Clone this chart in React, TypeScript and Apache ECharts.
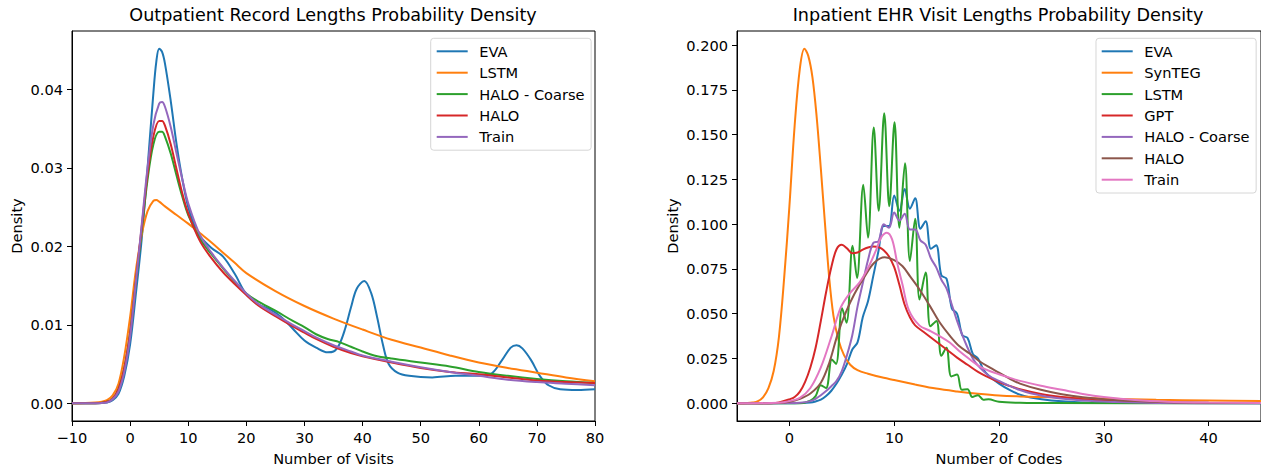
import React, { useEffect, useRef } from "react";
import * as echarts from "echarts";

// ---------- Left panel: Outpatient record lengths ----------
const outTitle = "Outpatient Record Lengths Probability Density";
const outXLabel = "Number of Visits";
const outNames = ["EVA", "LSTM", "HALO - Coarse", "HALO", "Train"];
const outXTicks = [-10, 0, 10, 20, 30, 40, 50, 60, 70, 80];
const outYTicks = [0, 0.01, 0.02, 0.03, 0.04];

const outEVA = [
  [-10, 0], [-6, 0], [-4, 0.0001], [-3, 0.0004], [-2, 0.0012], [-1, 0.0035], [0, 0.0075], [1, 0.014],
  [2, 0.021], [3, 0.030], [4, 0.0395], [4.5, 0.0435], [5, 0.0452], [5.5, 0.0448], [6, 0.0433], [7, 0.0385],
  [8, 0.033], [9, 0.0285], [10, 0.025], [11, 0.0228], [12, 0.0213], [14, 0.0198], [16, 0.0187], [18, 0.0165],
  [20, 0.0139], [22, 0.0126], [24, 0.012], [26, 0.011], [28, 0.0095], [30, 0.008], [32, 0.0071], [34, 0.0065],
  [35, 0.0066], [36, 0.0075], [37, 0.0095], [38, 0.0122], [39, 0.0146], [40.3, 0.0156], [41.5, 0.014],
  [42.5, 0.011], [43.5, 0.0075], [44.5, 0.005], [46, 0.0039], [48, 0.0035], [52, 0.0033], [56, 0.0035],
  [60, 0.0035], [62, 0.0037], [64, 0.0055], [65.5, 0.0071], [66.5, 0.0074], [67.5, 0.007], [69, 0.0055],
  [70.5, 0.0035], [72, 0.0023], [74, 0.0018], [77, 0.0017], [80, 0.0018],
];
const outLSTM = [
  [-10, 0], [-6, 0.0001], [-4, 0.0004], [-3, 0.001], [-2, 0.0025], [-1, 0.006], [0, 0.011], [1, 0.017],
  [2, 0.0215], [3, 0.0245], [4, 0.0258], [4.5, 0.0259], [5, 0.0257], [6, 0.0251], [8, 0.024], [10, 0.0229],
  [12, 0.0217], [14, 0.0205], [16, 0.0192], [18, 0.0179], [20, 0.0166], [25, 0.0143], [30, 0.0124],
  [35, 0.0108], [40, 0.0094], [45, 0.0081], [50, 0.0071], [55, 0.0061], [60, 0.0052], [65, 0.0045],
  [70, 0.0039], [75, 0.0033], [80, 0.0028],
];
const outHALOCoarse = [
  [-10, 0], [-6, 0], [-4, 0.0002], [-3, 0.0006], [-2, 0.0018], [-1, 0.0045], [0, 0.009], [1, 0.0155],
  [2, 0.022], [3, 0.0285], [4, 0.033], [5, 0.0346], [5.5, 0.0346], [6, 0.034], [7, 0.0318], [8, 0.029],
  [9, 0.0263], [10, 0.024], [12, 0.021], [14, 0.019], [16, 0.0172], [18, 0.0155], [20, 0.014], [22, 0.013],
  [25, 0.0118], [28, 0.0105], [30, 0.0097], [32, 0.0088], [34, 0.0082], [36, 0.0078], [38, 0.0072],
  [40, 0.0066], [42, 0.0061], [45, 0.0057], [50, 0.0052], [55, 0.0047], [60, 0.004], [65, 0.0035],
  [70, 0.0031], [75, 0.0028], [80, 0.0026],
];
const outHALO = [
  [-10, 0], [-6, 0], [-4, 0.0002], [-3, 0.0006], [-2, 0.0018], [-1, 0.0045], [0, 0.009], [1, 0.0157],
  [2, 0.0225], [3, 0.0292], [4, 0.034], [5, 0.036], [5.5, 0.036], [6, 0.0354], [7, 0.033], [8, 0.0298],
  [9, 0.0267], [10, 0.0242], [12, 0.0207], [14, 0.0185], [16, 0.0167], [18, 0.0152], [20, 0.0138],
  [22, 0.0125], [25, 0.0111], [28, 0.0098], [30, 0.009], [32, 0.0082], [35, 0.0072], [38, 0.0064],
  [40, 0.006], [45, 0.0052], [50, 0.0045], [55, 0.004], [60, 0.0037], [65, 0.0033], [70, 0.0029],
  [75, 0.0027], [80, 0.0026],
];
const outTrain = [
  [-10, 0], [-6, 0], [-4, 0.0001], [-3, 0.0005], [-2, 0.0015], [-1, 0.004], [0, 0.0085], [1, 0.0155],
  [2, 0.0228], [3, 0.03], [4, 0.0355], [5, 0.0382], [5.5, 0.0384], [6, 0.0378], [7, 0.0352], [8, 0.0318],
  [9, 0.0285], [10, 0.0255], [12, 0.0215], [14, 0.0192], [16, 0.0173], [18, 0.0156], [20, 0.014],
  [22, 0.0127], [25, 0.0113], [28, 0.01], [30, 0.0092], [32, 0.0084], [35, 0.0074], [38, 0.0066],
  [40, 0.0061], [45, 0.0053], [50, 0.0046], [55, 0.004], [60, 0.0035], [65, 0.003], [70, 0.0027],
  [75, 0.0025], [80, 0.0023],
];

// ---------- Right panel: Inpatient EHR visit lengths ----------
const inTitle = "Inpatient EHR Visit Lengths Probability Density";
const inXLabel = "Number of Codes";
const inNames = ["EVA", "SynTEG", "LSTM", "GPT", "HALO - Coarse", "HALO", "Train"];
const inXTicks = [0, 10, 20, 30, 40];
const inYTicks = [0, 0.025, 0.05, 0.075, 0.1, 0.125, 0.15, 0.175, 0.2];

const inEVA = [
  [-5, 0], [0, 0], [1, 0.0001], [2, 0.0004], [2.5, 0.001], [3, 0.002], [3.5, 0.004], [4, 0.007],
  [4.5, 0.011], [5, 0.016], [5.5, 0.022], [6, 0.03], [6.5, 0.034], [7, 0.048], [7.5, 0.057], [8, 0.071],
  [8.5, 0.085], [9, 0.099], [9.5, 0.099], [10, 0.116], [10.5, 0.1075], [11, 0.1196], [11.5, 0.1087],
  [12, 0.1145], [12.5, 0.0975], [13, 0.1016], [13.5, 0.0863], [14, 0.0882], [14.5, 0.0714], [15, 0.0695],
  [15.5, 0.053], [16, 0.05], [16.5, 0.038], [17, 0.0365], [17.5, 0.0276], [18, 0.025], [18.5, 0.019],
  [19, 0.0155], [20, 0.011], [21, 0.0075], [22, 0.0048], [23, 0.0032], [25, 0.0015], [28, 0.0005],
  [32, 0.0002], [45, 0],
];
const inSynTEG = [
  [-5, 0], [-4, 0.0001], [-3.5, 0.0004], [-3, 0.0012], [-2.5, 0.0035], [-2, 0.0085], [-1.5, 0.018],
  [-1, 0.037], [-0.5, 0.07], [0, 0.11], [0.5, 0.155], [1, 0.187], [1.43, 0.198], [1.8, 0.194], [2.2, 0.182],
  [2.6, 0.16], [3, 0.131], [3.4, 0.1], [3.8, 0.07], [4.2, 0.049], [4.7, 0.035], [5.2, 0.027], [5.8, 0.0215],
  [6.5, 0.0185], [7.5, 0.0165], [9, 0.0142], [10, 0.013], [12, 0.0105], [14, 0.0082], [16, 0.0066],
  [18, 0.0053], [20, 0.0043], [22, 0.0038], [25, 0.0033], [30, 0.0027], [35, 0.0019], [40, 0.0015],
  [45, 0.0012],
];
const inLSTM = [
  [-5, 0], [1, 0], [2, 0.0015], [2.5, 0.004], [3, 0.01], [3.5, 0.0085], [4.05, 0.0245], [4.45, 0.022],
  [5.03, 0.053], [5.45, 0.045], [6.03, 0.088], [6.45, 0.07], [7.05, 0.122], [7.5, 0.0925], [8.05, 0.154],
  [8.52, 0.1075], [9.05, 0.162], [9.53, 0.11], [10.03, 0.157], [10.5, 0.098], [11.03, 0.134], [11.5, 0.0795],
  [12.0, 0.103], [12.42, 0.058], [13.0, 0.073], [13.45, 0.043], [14.03, 0.046], [14.5, 0.0265],
  [14.98, 0.031], [15.45, 0.015], [16, 0.016], [16.45, 0.0075], [17, 0.0078], [17.45, 0.0035], [18, 0.0045],
  [18.5, 0.002], [19, 0.0022], [20, 0.0008], [22, 0.0003], [25, 0.0001], [45, 0],
];
const inGPT = [
  [-5, 0], [-2, 0], [-1, 0.0005], [0, 0.0022], [0.5, 0.0035], [1, 0.0065], [1.5, 0.012], [2, 0.02],
  [2.5, 0.031], [3, 0.046], [3.5, 0.062], [4, 0.076], [4.5, 0.086], [5, 0.0885], [5.5, 0.0865], [6, 0.0838],
  [6.5, 0.0842], [7, 0.0858], [7.5, 0.087], [8, 0.0875], [8.6, 0.087], [9, 0.0855], [9.5, 0.082], [10, 0.076],
  [10.5, 0.066], [11, 0.055], [11.5, 0.048], [12, 0.0435], [13, 0.039], [14, 0.0345], [15, 0.03],
  [16, 0.0255], [17, 0.0215], [18, 0.0175], [19, 0.0145], [20, 0.0118], [21, 0.0097], [22, 0.0078],
  [24, 0.0052], [26, 0.0035], [28, 0.0023], [30, 0.0015], [33, 0.0008], [36, 0.0004], [40, 0.0002],
  [45, 0.0001],
];
const inHALOCoarse = [
  [-5, 0], [0, 0.0001], [1, 0.0003], [2, 0.0012], [2.5, 0.0025], [3, 0.0045], [3.5, 0.0068], [4, 0.0095],
  [4.5, 0.0125], [5, 0.018], [5.5, 0.027], [6, 0.038], [6.5, 0.054], [7, 0.067], [7.5, 0.08], [8, 0.0895],
  [8.5, 0.0905], [9, 0.1], [9.5, 0.098], [10, 0.1065], [10.5, 0.102], [11, 0.1058], [11.5, 0.097],
  [12, 0.097], [12.5, 0.091], [13, 0.0885], [13.5, 0.081], [14, 0.076], [14.5, 0.069], [15, 0.064],
  [15.5, 0.055], [16, 0.046], [16.5, 0.038], [17, 0.031], [17.5, 0.025], [18, 0.021], [19, 0.0155],
  [20, 0.0125], [21, 0.0097], [22, 0.0074], [23, 0.0056], [25, 0.0033], [28, 0.0015], [31, 0.0007],
  [35, 0.0002], [45, 0],
];
const inHALO = [
  [-5, 0], [-1, 0.0002], [0, 0.0008], [1, 0.0025], [2, 0.0055], [3, 0.0115], [3.8, 0.0225], [4.6, 0.0385],
  [5.4, 0.051], [6.2, 0.061], [7.2, 0.071], [8.1, 0.0785], [9.1, 0.0815], [10, 0.08], [10.8, 0.0765],
  [11.5, 0.071], [12.4, 0.0637], [13.4, 0.0544], [14.3, 0.0455], [15.3, 0.0378], [16.2, 0.032],
  [17.2, 0.0278], [18.1, 0.0236], [19.1, 0.02], [20, 0.0171], [21, 0.0138], [22, 0.011], [24, 0.0075],
  [26, 0.005], [28, 0.0033], [30, 0.0022], [33, 0.0012], [36, 0.0006], [40, 0.0003], [45, 0.0001],
];
const inTrain = [
  [-5, 0], [-1, 0.0003], [0, 0.0012], [1, 0.003], [2, 0.0085], [3, 0.02], [4, 0.037], [4.9, 0.0535],
  [5.7, 0.061], [6.7, 0.0675], [7.6, 0.0767], [8.3, 0.086], [8.8, 0.093], [9.3, 0.0953], [9.8, 0.0915],
  [10.3, 0.078], [10.8, 0.066], [11.4, 0.052], [12.4, 0.0435], [13.4, 0.0405], [14.3, 0.0376],
  [15.3, 0.0339], [16.2, 0.0292], [17.2, 0.0246], [18.1, 0.0208], [19.1, 0.018], [20, 0.0162],
  [21, 0.0143], [22, 0.0125], [24, 0.0098], [26, 0.0075], [28, 0.0052], [30, 0.0035], [33, 0.0018],
  [36, 0.0009], [40, 0.0004], [45, 0.0001],
];

const outData = [outEVA, outLSTM, outHALOCoarse, outHALO, outTrain];
const inData = [inEVA, inSynTEG, inLSTM, inGPT, inHALOCoarse, inHALO, inTrain];

const outColors = ["#1f77b4", "#ff7f0e", "#2ca02c", "#d62728", "#9467bd"];
const inColors = ["#1f77b4", "#ff7f0e", "#2ca02c", "#d62728", "#9467bd", "#8c564b", "#e377c2"];

const FONT = "DejaVu Sans";
const TICK_FS = 14.6;
const TITLE_FS = 17.6;

function fmtMinus(v: number, d: number) {
  const s = Math.abs(v) < 1e-12 ? (0).toFixed(d) : v.toFixed(d);
  return s.replace("-", "\u2212");
}

export default function App() {
  const ref = useRef<HTMLDivElement>(null);
  useEffect(() => {
    document.body.style.margin = "0";
    if (!ref.current) return;
    const chart = echarts.init(ref.current, undefined, { renderer: "svg" });

    const axisCommon = {
      axisLine: { show: true, onZero: false, lineStyle: { color: "#000", width: 1 } },
      axisTick: { show: true, inside: false, length: 5, lineStyle: { color: "#000", width: 1 } },
      splitLine: { show: false },
      nameTextStyle: { fontFamily: FONT, fontSize: TICK_FS, color: "#000" },
    };

    const series: any[] = [];
    outNames.forEach((n, i) => {
      series.push({
        type: "line", name: "L|" + n, xAxisIndex: 0, yAxisIndex: 0, data: outData[i],
        showSymbol: false, symbol: "none", smooth: 0.35, clip: true,
        lineStyle: { color: outColors[i], width: 2 }, itemStyle: { color: outColors[i] },
      });
    });
    inNames.forEach((n, i) => {
      series.push({
        type: "line", name: "R|" + n, xAxisIndex: 1, yAxisIndex: 1, data: inData[i],
        showSymbol: false, symbol: "none", smooth: 0.35, clip: true,
        lineStyle: { color: inColors[i], width: 2 }, itemStyle: { color: inColors[i] },
      });
    });

    const legendCommon = {
      orient: "vertical",
      align: "left",
      itemWidth: 31,
      itemHeight: 16,
      itemGap: 5.4,
      selectedMode: false,
      backgroundColor: "#fff",
      borderColor: "#d6d6d6",
      borderWidth: 1,
      borderRadius: 3,
      itemStyle: { opacity: 0, borderWidth: 0 },
      lineStyle: { width: 2 },
      formatter: (name: string) => name.split("|")[1],
      textStyle: { fontFamily: FONT, fontSize: TICK_FS, lineHeight: 16, color: "#000", padding: [0, 0, 0, 6.6] },
    };

    chart.setOption({
      animation: false,
      backgroundColor: "#fff",
      textStyle: { fontFamily: FONT },
      title: [
        { text: outTitle, left: 333, top: 6, padding: 0, textAlign: "center",
          textStyle: { fontFamily: FONT, fontSize: TITLE_FS, fontWeight: "normal", color: "#000" } },
        { text: inTitle, left: 998, top: 6, padding: 0, textAlign: "center",
          textStyle: { fontFamily: FONT, fontSize: TITLE_FS, fontWeight: "normal", color: "#000" } },
      ],
      grid: [
        { left: 72, top: 31, width: 523, height: 390, show: true, borderColor: "#000", borderWidth: 1,
          containLabel: false, outerBoundsMode: "none" },
        { left: 737, top: 31, width: 524, height: 390, show: true, borderColor: "#000", borderWidth: 1,
          containLabel: false, outerBoundsMode: "none" },
      ],
      legend: [
        { ...legendCommon, data: outNames.map((n) => "L|" + n), left: 430.7, top: 38.3,
          padding: [5, 6.6, 5.3, 5] },
        { ...legendCommon, data: inNames.map((n) => "R|" + n), left: 1096, top: 38.3,
          padding: [5, 6.6, 5.3, 4.7] },
      ],
      xAxis: [
        { ...axisCommon, type: "value", gridIndex: 0, min: -10, max: 80, interval: 10,
          name: outXLabel, nameLocation: "middle", nameGap: 29.5,
          axisLabel: { margin: 9, fontFamily: FONT, fontSize: TICK_FS, color: "#000",
            customValues: outXTicks, formatter: (v: number) => fmtMinus(v, 0) },
          axisTick: { ...axisCommon.axisTick, customValues: outXTicks } },
        { ...axisCommon, type: "value", gridIndex: 1, min: -5, max: 45,
          name: inXLabel, nameLocation: "middle", nameGap: 29.5,
          axisLabel: { margin: 9, fontFamily: FONT, fontSize: TICK_FS, color: "#000",
            customValues: inXTicks, formatter: (v: number) => fmtMinus(v, 0) },
          axisTick: { ...axisCommon.axisTick, customValues: inXTicks } },
      ],
      yAxis: [
        { ...axisCommon, type: "value", gridIndex: 0, min: -0.00226, max: 0.04746,
          name: "Density", nameLocation: "middle", nameGap: 48,
          axisLabel: { margin: 9, fontFamily: FONT, fontSize: TICK_FS, color: "#000",
            customValues: outYTicks, formatter: (v: number) => fmtMinus(v, 2) },
          axisTick: { ...axisCommon.axisTick, customValues: outYTicks } },
        { ...axisCommon, type: "value", gridIndex: 1, min: -0.0099, max: 0.2079,
          name: "Density", nameLocation: "middle", nameGap: 57,
          axisLabel: { margin: 9, fontFamily: FONT, fontSize: TICK_FS, color: "#000",
            customValues: inYTicks, formatter: (v: number) => fmtMinus(v, 3) },
          axisTick: { ...axisCommon.axisTick, customValues: inYTicks } },
      ],
      series,
    });
    return () => chart.dispose();
  }, []);
  return <div ref={ref} style={{ width: 1261, height: 469 }} />;
}
